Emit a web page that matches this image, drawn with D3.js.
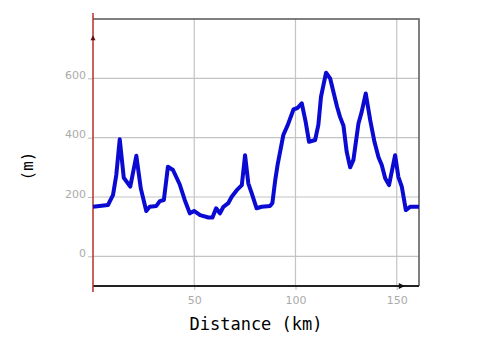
<!DOCTYPE html>
<html>
<head>
<meta charset="utf-8">
<script src="https://cdn.jsdelivr.net/npm/d3@7"></script>
<style>
  body { margin: 0; background: #fff; }
  #chart { width: 487px; height: 362px; }
</style>
</head>
<body>
<div id="chart"></div>
<script>
// elevation profile
const distance = [0, 7.4, 9.9, 11.5, 13.2, 15.2, 18.4, 21.4, 23.6, 26.3, 28, 31.3, 33, 35, 37, 39.5,
  42.8, 45.3, 47.8, 49.9, 52.9, 57, 59, 60.8, 62.7, 64.4, 66.8, 68.5, 71, 73.5, 75.1, 76.7, 78.4,
  80.8, 83.3, 87.5, 88.6, 90, 91.2, 94, 96.2, 99, 101, 103.1, 105, 106.7, 109.7, 111.3, 112.6,
  115.1, 117.1, 120.5, 122, 123.7, 125.3, 127, 128.6, 131.1, 132.7, 134.7, 136.9, 139, 141, 142.6,
  144.3, 146.2, 149.2, 150.8, 152.5, 154.5, 156.6, 161];
const elevation = [167, 173, 207, 274, 395, 265, 235, 339, 229, 153, 167, 170, 186, 190, 302, 291,
  243, 190, 145, 153, 139, 131, 131, 162, 145, 167, 179, 201, 223, 240, 341, 246, 212,
  162, 167, 170, 180, 257, 310, 409, 443, 495, 500, 516, 454, 386, 392, 443, 538,
  619, 600, 505, 470, 440, 352, 300, 325, 448, 487, 549, 459, 386, 334, 308,
  263, 240, 341, 268, 235, 156, 167, 167];
const yTicks = [0, 200, 400, 600];
const xTicks = [50, 100, 150];

const data = distance.map((d, i) => ({ km: d, m: elevation[i] }));

const margin = { left: 93, right: 419, top: 19, bottom: 286 };

const x = d3.scaleLinear().domain([0, 161]).range([margin.left, margin.right]);
const y = d3.scaleLinear().domain([-100, 800]).range([margin.bottom, margin.top]);

const svg = d3.select("#chart").append("svg")
  .attr("width", 487)
  .attr("height", 362);

// grid
svg.append("g").selectAll("line").data(yTicks).join("line")
  .attr("x1", margin.left).attr("x2", margin.right)
  .attr("y1", d => y(d)).attr("y2", d => y(d))
  .attr("stroke", "#c4c4c4").attr("stroke-width", 1.2);
svg.append("g").selectAll("line").data(xTicks).join("line")
  .attr("x1", d => x(d)).attr("x2", d => x(d))
  .attr("y1", margin.top).attr("y2", margin.bottom)
  .attr("stroke", "#c4c4c4").attr("stroke-width", 1.2);

// frame top / right
svg.append("path")
  .attr("d", `M${margin.left},${margin.top}H${margin.right}V${margin.bottom}`)
  .attr("fill", "none").attr("stroke", "#555").attr("stroke-width", 1.5);

// axes with tick labels
const yAxis = svg.append("g")
  .attr("transform", `translate(${margin.left},0)`)
  .call(d3.axisLeft(y).tickValues(yTicks).tickSize(5).tickPadding(2));
yAxis.select(".domain").remove();
yAxis.selectAll(".tick line").attr("stroke", "#bbb");
yAxis.selectAll(".tick text").attr("dy", "0")
  .attr("fill", "#aaa").style("font", "11px 'DejaVu Sans'");

const xAxis = svg.append("g")
  .attr("transform", `translate(0,${margin.bottom})`)
  .call(d3.axisBottom(x).tickValues(xTicks).tickSize(4).tickPadding(6));
xAxis.select(".domain").remove();
xAxis.selectAll(".tick line").attr("stroke", "#bbb");
xAxis.selectAll(".tick text")
  .attr("fill", "#aaa").style("font", "11px 'DejaVu Sans'");

// bottom axis line with arrow
svg.append("line")
  .attr("x1", margin.left).attr("x2", margin.right)
  .attr("y1", margin.bottom).attr("y2", margin.bottom)
  .attr("stroke", "#222").attr("stroke-width", 2);
const ax = x(154);
svg.append("path")
  .attr("d", `M${ax},${margin.bottom}l-6,-3v6z`)
  .attr("fill", "#111");

// left red axis with arrow
svg.append("line")
  .attr("x1", margin.left).attr("x2", margin.left)
  .attr("y1", margin.top - 6).attr("y2", margin.bottom + 6)
  .attr("stroke", "#b5302a").attr("stroke-width", 1.5);
const ay = y(745);
svg.append("path")
  .attr("d", `M${margin.left},${ay}l-2.5,5h5z`)
  .attr("fill", "#5a1010");

// profile
const line = d3.line()
  .x(d => x(d.km))
  .y(d => y(d.m));

svg.append("path")
  .datum(data)
  .attr("fill", "none")
  .attr("stroke", "#0a0ad2")
  .attr("stroke-width", 4)
  .attr("stroke-linejoin", "round")
  .attr("d", line);

// titles
svg.append("text")
  .attr("x", 256).attr("y", 330)
  .attr("text-anchor", "middle")
  .style("font", "17px 'DejaVu Sans Mono'")
  .text("Distance (km)");

svg.append("text")
  .attr("transform", "translate(33,166) rotate(-90)")
  .attr("text-anchor", "middle")
  .style("font", "16px 'DejaVu Sans Mono'")
  .text("(m)");
</script>
</body>
</html>
